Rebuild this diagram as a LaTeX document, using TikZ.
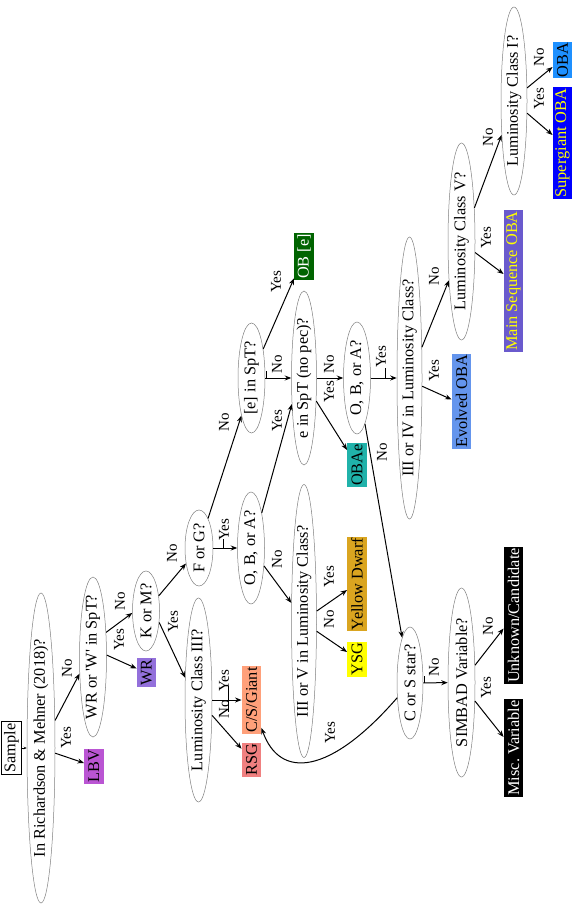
\documentclass[tikz,border=0pt]{standalone}
\usepackage{fontspec}
\setmainfont{Liberation Serif}
\usetikzlibrary{arrows.meta,shapes.geometric}
\definecolor{cLBV}{HTML}{BA55D3}
\definecolor{cWR}{HTML}{9370DB}
\definecolor{cOBe}{HTML}{006400}
\definecolor{cOBAe}{HTML}{20B2AA}
\definecolor{cYD}{HTML}{DAA520}
\definecolor{cYSG}{HTML}{FFFF00}
\definecolor{cCSG}{HTML}{FFA07A}
\definecolor{cRSG}{HTML}{F08080}
\definecolor{cEvo}{HTML}{6495ED}
\definecolor{cMS}{HTML}{6A5ACD}
\definecolor{cOBA}{HTML}{1E90FF}
\definecolor{cSG}{HTML}{0000FF}
\definecolor{cYel}{HTML}{FFFF00}
\newcommand\mkq[6]{%
  \node[qell, minimum width=#4pt, minimum height=#5pt] (#1) at (#2,#3) {};
  \node[qtxt] (#1t) at (#1) {#6};}
\begin{document}
\begin{tikzpicture}[x=1pt,y=-1pt,
  qell/.style={ellipse, draw=black!50, line width=0.5pt, inner sep=0pt},
  qtxt/.style={rotate=90, font=\fontsize{16.3}{19}\selectfont, inner sep=0pt},
  res/.style={rectangle, rotate=90, inner xsep=1.2pt, inner ysep=0pt, minimum height=19.5pt, font=\fontsize{16.3}{19}\selectfont},
  edge/.style={line width=1pt, -{Stealth[length=6.5pt,width=5pt]}},
  lab/.style={rotate=90, font=\fontsize{15}{18}\selectfont, inner sep=0pt},
  tick/.style={line width=0.9pt},
]
\fill[white] (0,0) rectangle (573,915);
\path[use as bounding box] (0,0) rectangle (573,915);

% start
\node[res, draw=black, line width=0.5pt, fill=white, inner xsep=2pt, minimum height=20pt] (sample) at (11.5,748) {Sample};

% questions
\mkq{rich}{41}{748}{28}{310}{In Richardson \& Mehner (2018)?}
\mkq{wrq}{93}{657}{27}{160}{WR or \textquotesingle W\textquotesingle\ in SpT?}
\mkq{kom}{146}{611}{27}{80}{K or M?}
\mkq{lum3}{198.5}{700}{27}{204}{Luminosity Class III?}
\mkq{forg}{199}{548}{28}{76}{F or G?}
\mkq{oba1}{251}{548}{27}{112}{O, B, or A?}
\mkq{eq}{251.5}{378}{27}{110}{[e] in SpT?}
\mkq{es}{304}{378}{25}{174}{e in SpT (no pec)?}
\mkq{iiiv}{304}{621}{25}{273}{III or V in Luminosity Class?}
\mkq{oba2}{357}{378}{27}{112}{O, B, or A?}
\mkq{iiiiv}{409.5}{378}{25}{282}{III or IV in Luminosity Class?}
\mkq{csstar}{410}{683}{26}{112}{C or S star?}
\mkq{lumv}{461.5}{241.5}{27}{197}{Luminosity Class V?}
\mkq{simbad}{461.5}{682.5}{27}{189}{SIMBAD Variable?}
\mkq{lum1}{514}{101}{26}{188}{Luminosity Class I?}

% results
\node[res, fill=cLBV] (lbv) at (94,766) {LBV};
\node[res, fill=cWR] (wr) at (146.5,672.5) {WR};
\node[res, fill=cOBe, text=white] (obe) at (304,256.5) {OB [e]};
\node[res, fill=cOBAe] (obae) at (357,465) {OBAe};
\node[res, fill=cYD] (ydw) at (357,584) {Yellow Dwarf};
\node[res, fill=cYSG] (ysg) at (357,659) {YSG};
\node[res, fill=cCSG] (csg) at (251.5,700) {C/S/Giant};
\node[res, fill=cRSG] (rsg) at (251.5,760) {RSG};
\node[res, fill=cEvo] (evo) at (461.5,401.5) {Evolved OBA};
\node[res, fill=cMS, text=cYel] (mso) at (513.5,281) {Main Sequence OBA};
\node[res, fill=cOBA] (oba) at (562.5,60) {OBA};
\node[res, fill=cSG, text=cYel] (sgo) at (562.5,143) {Supergiant OBA};
\node[res, fill=black, text=white] (misc) at (513.5,748) {Misc.\ Variable};
\node[res, fill=black, text=white] (unk) at (513.5,615.5) {Unknown/Candidate};

% edges
\draw[line width=0.8pt, -{Stealth[length=3pt,width=2.5pt]}] (sample.south) -- (rich.west);
\draw[edge] (rich.340.3) -- ([yshift=3pt]lbv.north);
\draw[edge] (rich.63.4) -- (wrq.231);
\draw[edge] (wrq.8.1) -- ([yshift=4pt]wr.north);
\draw[edge] (wrq.62.6) -- (kom.188.7);
\draw[edge] (kom.319.4) -- (lum3.121.3);
\draw[edge] (kom) -- (forg);
\draw[edge] (forg) -- (oba1);
\draw[edge] (forg.73.3) -- (eq.255.2);
\draw[edge] (eq.68.5) -- ([yshift=2pt]obe.north west);
\draw[edge] (eq) -- (es);
\draw[edge] (oba1.73) -- (es.245);
\draw[edge] (oba1.306.4) -- (iiiv.125.8);
\draw[edge] (es.298.4) -- ([yshift=15pt]obae.north);
\draw[edge] (es) -- (oba2);
\draw[edge] (oba2) -- (csstar);
\draw[edge] (oba2) -- (iiiiv);
\draw[edge] (iiiiv.327.3) -- ([yshift=2pt]evo.north);
\draw[edge] (iiiiv.68.2) -- (lumv.252.1);
\draw[edge] (lumv.321.8) -- ([yshift=7pt]mso.north);
\draw[edge] (lumv.69.1) -- (lum1.250.6);
\draw[edge] (lum1.45) -- ([yshift=-7pt]oba.north);
\draw[edge] (lum1.317.3) -- ([yshift=8pt]sgo.north);
\draw[edge] (iiiv.38.2) -- ([yshift=-6pt]ydw.north);
\draw[edge] (iiiv.321.8) -- ([yshift=7pt]ysg.north);
\draw[edge] (lum3) -- (csg);
\draw[edge] (lum3) -- (rsg);
\draw[edge] (csstar) -- (simbad);
\draw[edge] (simbad.306.4) -- ([yshift=11pt]misc.north);
\draw[edge] (simbad.52.1) -- ([yshift=-13pt]unk.north);
\draw[edge] (csstar) .. controls (330,775) and (280,780) .. (csg);

% small ticks
\draw[tick] (223,539) -- (223,548);
\draw[tick] (266,371) -- (266,379);
\draw[tick] (228,686) -- (228,712);
\draw[tick] (385,368) -- (385,378);
\draw[tick] (424,676) -- (424,683);

% edge labels
\node[lab] (l1) at (66,738) {Yes};
\node[lab] (l2) at (67,668) {No};
\node[lab] (l3) at (119,640) {Yes};
\node[lab] (l4) at (120,601) {No};
\node[lab] (l5) at (173,622) {Yes};
\node[lab] (l6) at (172,553) {No};
\node[lab] (l7) at (224,530) {Yes};
\node[lab] (l8) at (224,422) {No};
\node[lab] (l9) at (276,282) {Yes};
\node[lab] (l10) at (277,364) {No};
\node[lab] (l11) at (277,421) {Yes};
\node[lab] (l12) at (277,559) {No};
\node[lab] (l13) at (329,364) {No};
\node[lab] (l14) at (329,392) {Yes};
\node[lab] (l15) at (381,357) {Yes};
\node[lab] (l16) at (382,452) {No};
\node[lab] (l17) at (329,577) {Yes};
\node[lab] (l18) at (329,619) {No};
\node[lab] (l19) at (224,681) {Yes};
\node[lab] (l20) at (224,709) {No};
\node[lab] (l21) at (330,733) {Yes};
\node[lab] (l22) at (434,371) {Yes};
\node[lab] (l23) at (434,276) {No};
\node[lab] (l24) at (486,238) {Yes};
\node[lab] (l25) at (488,137) {No};
\node[lab] (l26) at (539,57) {No};
\node[lab] (l27) at (539,99) {Yes};
\node[lab] (l28) at (434,667) {No};
\node[lab] (l29) at (486,688) {Yes};
\node[lab] (l30) at (488,626) {No};
\end{tikzpicture}
\end{document}
